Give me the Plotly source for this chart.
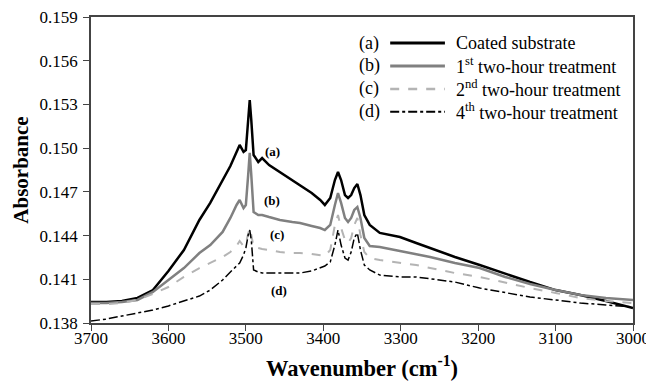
import plotly.graph_objects as go

# Wavenumber (cm-1)
wavenumber = [3700, 3680, 3660, 3640, 3620, 3600, 3580, 3560, 3546, 3530,
              3520, 3512, 3508, 3503, 3500, 3497, 3495, 3493, 3490, 3484,
              3479, 3470, 3456, 3440, 3430, 3415, 3404, 3398, 3391, 3385,
              3381, 3377, 3372, 3368, 3364, 3360, 3356, 3352, 3347, 3340,
              3327, 3301, 3280, 3262, 3230, 3198, 3165, 3133, 3100, 3068,
              3035, 3000]

coated = [0.13944, 0.13944, 0.13951, 0.13972, 0.14026, 0.14157, 0.14301, 0.14507, 0.14624, 0.14781,
          0.14877, 0.14974, 0.15022, 0.14974, 0.14987, 0.15193, 0.15330, 0.15193, 0.14953, 0.14905,
          0.14932, 0.14884, 0.14836, 0.14781, 0.14747, 0.14692, 0.14644, 0.14610, 0.14658, 0.14781,
          0.14836, 0.14781, 0.14678, 0.14658, 0.14678, 0.14726, 0.14754, 0.14678, 0.14541, 0.14473,
          0.14418, 0.14390, 0.14349, 0.14315, 0.14253, 0.14198, 0.14136, 0.14081, 0.14026, 0.13992,
          0.13951, 0.13903]

treat1 = [0.13937, 0.13937, 0.13944, 0.13958, 0.14013, 0.14095, 0.14177, 0.14280, 0.14335, 0.14425,
          0.14521, 0.14610, 0.14644, 0.14589, 0.14610, 0.14816, 0.14967, 0.14816, 0.14562, 0.14541,
          0.14541, 0.14527, 0.14507, 0.14493, 0.14486, 0.14466, 0.14452, 0.14438, 0.14473, 0.14610,
          0.14692, 0.14624, 0.14521, 0.14493, 0.14521, 0.14576, 0.14596, 0.14521, 0.14383, 0.14328,
          0.14322, 0.14294, 0.14274, 0.14253, 0.14212, 0.14177, 0.14116, 0.14068, 0.14026, 0.13992,
          0.13972, 0.13958]

treat2 = [0.13930, 0.13930, 0.13937, 0.13958, 0.13999, 0.14047, 0.14116, 0.14177, 0.14212, 0.14253,
          0.14287, 0.14328, 0.14363, 0.14328, 0.14349, 0.14404, 0.14452, 0.14404, 0.14322, 0.14315,
          0.14308, 0.14301, 0.14287, 0.14280, 0.14280, 0.14274, 0.14267, 0.14260, 0.14301, 0.14473,
          0.14541, 0.14452, 0.14370, 0.14349, 0.14383, 0.14473, 0.14521, 0.14404, 0.14287, 0.14246,
          0.14232, 0.14212, 0.14198, 0.14177, 0.14143, 0.14116, 0.14075, 0.14040, 0.14006, 0.13972,
          0.13951, 0.13937]

treat4 = [0.13814, 0.13827, 0.13848, 0.13869, 0.13889, 0.13917, 0.13951, 0.13985, 0.14026, 0.14095,
          0.14150, 0.14191, 0.14212, 0.14267, 0.14315, 0.14404, 0.14438, 0.14370, 0.14164, 0.14150,
          0.14143, 0.14143, 0.14143, 0.14143, 0.14143, 0.14157, 0.14177, 0.14191, 0.14219, 0.14335,
          0.14438, 0.14335, 0.14246, 0.14232, 0.14287, 0.14383, 0.14418, 0.14301, 0.14198, 0.14164,
          0.14129, 0.14116, 0.14116, 0.14102, 0.14081, 0.14040, 0.14006, 0.13978, 0.13958, 0.13937,
          0.13924, 0.13910]

series_letters = ["(a)", "(b)", "(c)", "(d)"]
series_names = ["Coated substrate",
                "1<sup>st</sup> two-hour treatment",
                "2<sup>nd</sup> two-hour treatment",
                "4<sup>th</sup> two-hour treatment"]
series_values = [coated, treat1, treat2, treat4]
series_styles = [dict(color="black", width=2.5, dash="solid"),
                 dict(color="#808080", width=2.5, dash="solid"),
                 dict(color="#b4b4b4", width=2, dash="dash"),
                 dict(color="black", width=1.5, dash="dashdot")]

# curve labels positions (data coords)
label_x = [3466, 3466, 3460, 3457]
label_y = [0.14974, 0.14644, 0.14404, 0.14026]

y_ticks = [0.138, 0.141, 0.144, 0.147, 0.150, 0.153, 0.156, 0.159]
x_ticks = [3700, 3600, 3500, 3400, 3300, 3200, 3100, 3000]

FONT = "Liberation Serif"
AXC = "#444444"

fig = go.Figure()
for name, vals, st in zip(series_names, series_values, series_styles):
    fig.add_trace(go.Scatter(x=wavenumber, y=vals, mode="lines", name=name,
                             line=st, showlegend=False))

for lt, lx, ly in zip(series_letters, label_x, label_y):
    fig.add_annotation(x=lx, y=ly, text="<b>" + lt + "</b>", showarrow=False,
                       xanchor="center", yanchor="middle",
                       font=dict(family=FONT, size=13, color="black"))

# manual legend (paper coordinates)
leg_y = [0.915, 0.840, 0.765, 0.690]
for lt, name, st, yy in zip(series_letters, series_names, series_styles, leg_y):
    fig.add_annotation(xref="paper", yref="paper", x=0.513, y=yy, text=lt,
                       xanchor="center", yanchor="middle",
                       showarrow=False, font=dict(family=FONT, size=18, color="black"))
    fig.add_shape(type="line", xref="paper", yref="paper", x0=0.552, x1=0.653,
                  y0=yy, y1=yy,
                  line=dict(color=st["color"], width=st["width"] + 0.5, dash=st["dash"]))
    fig.add_annotation(xref="paper", yref="paper", x=0.669, y=yy, text=name,
                       xanchor="left", yanchor="middle", showarrow=False,
                       font=dict(family=FONT, size=18, color="black"))

# the page body adds an 8px offset; margins compensate for it
fig.update_layout(
    template="none",
    width=654, height=383,
    margin=dict(l=83, r=29, t=9, b=68),
    paper_bgcolor="white", plot_bgcolor="white",
    font=dict(family=FONT, size=17, color="black"),
)
fig.update_xaxes(range=[3700, 3000], tickvals=x_ticks, ticks="outside", ticklen=6,
                 tickcolor=AXC, tickwidth=1.2, showline=True, linecolor=AXC, linewidth=1.5,
                 mirror=True, automargin=False, ticklabeloverflow="allow",
                 showgrid=False, zeroline=False, ticklabelstandoff=-7,
                 tickfont=dict(family=FONT, size=17, color="black"),
                 title=dict(text="<b>Wavenumber (cm<sup>-1</sup>)</b>", standoff=13,
                            font=dict(family=FONT, size=22.5, color="black")))
fig.update_yaxes(range=[0.138, 0.159], tickvals=y_ticks, tickformat=".3f",
                 ticks="outside", ticklen=6, tickwidth=1.2,
                 tickcolor=AXC, showline=True, linecolor=AXC, linewidth=1.5, mirror=True,
                 automargin=False, ticklabeloverflow="allow",
                 showgrid=False, zeroline=False, ticklabelstandoff=2,
                 tickfont=dict(family=FONT, size=17, color="black"),
                 title=dict(text="<b>Absorbance</b>", standoff=5,
                            font=dict(family=FONT, size=21, color="black")))

fig.write_html("out.html")
